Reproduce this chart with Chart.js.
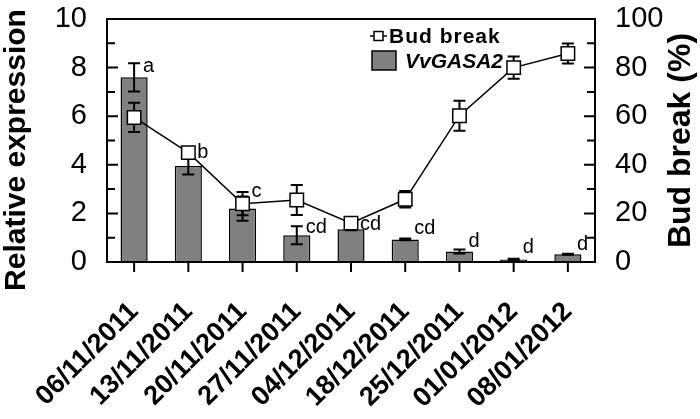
<!DOCTYPE html>
<html><head><meta charset="utf-8">
<script src="https://cdn.jsdelivr.net/npm/chart.js@4.4.1/dist/chart.umd.min.js"></script>
<style>html,body{margin:0;padding:0;background:#fff}#wrap{width:700px;height:419px}</style>
</head><body><div id="wrap"><canvas id="c" width="700" height="419"></canvas></div>
<script>
const dates = ['06/11/2011','13/11/2011','20/11/2011','27/11/2011','04/12/2011','18/12/2011','25/12/2011','01/01/2012','08/01/2012'];
const expression = [7.6, 3.95, 2.2, 1.1, 1.35, 0.93, 0.43, 0.1, 0.32];
const expressionErr = [0.58, 0.35, 0.5, 0.37, 0.04, 0.04, 0.08, 0.03, 0.02];
const budBreak = [59.5, 45, 24, 25.5, 16, 25.8, 60.2, 80, 85.8];
const budBreakErr = [6, 1, 4.8, 6.2, 1, 3.4, 6.2, 4.6, 4.1];
const sigLetters = ['a','b','c','cd','cd','cd','d','d','d'];
const letterLevels = [7.82, 4.28, 2.67, 1.19, 1.32, 1.15, 0.62, 0.37, 0.49];
const leftTickStep = 2;
const rightTickStep = 20;
const leftTitle = 'Relative expression';
const rightTitle = 'Bud break (%)';

const FONT = "'Liberation Sans', Arial, sans-serif";

function vText(ctx, text, cx, cy, font) {
  ctx.save();
  ctx.translate(cx, cy);
  ctx.rotate(-Math.PI / 2);
  ctx.textAlign = 'center';
  ctx.textBaseline = 'middle';
  ctx.font = font;
  ctx.fillText(text, 0, 0);
  ctx.restore();
}

const extras = {
  id: 'extras',
  beforeDatasetDraw(chart, args) {
    if (args.index !== 0) return;
    const ctx = chart.ctx, x = chart.scales.x, y1 = chart.scales.y1;
    ctx.save();
    ctx.strokeStyle = '#000'; ctx.lineWidth = 2;
    budBreak.forEach((v, i) => {
      const px = x.getPixelForValue(i);
      const top = y1.getPixelForValue(v + budBreakErr[i]);
      const bot = y1.getPixelForValue(v - budBreakErr[i]);
      ctx.beginPath();
      ctx.moveTo(px, top); ctx.lineTo(px, bot);
      ctx.moveTo(px - 6, top); ctx.lineTo(px + 6, top);
      ctx.moveTo(px - 6, bot); ctx.lineTo(px + 6, bot);
      ctx.stroke();
    });
    ctx.restore();
  },
  afterDatasetDraw(chart, args) {
    if (args.index !== 1) return;
    const ctx = chart.ctx, x = chart.scales.x, y = chart.scales.y;
    ctx.save();
    ctx.strokeStyle = '#000'; ctx.lineWidth = 2;
    expression.forEach((v, i) => {
      const px = x.getPixelForValue(i);
      const top = y.getPixelForValue(v + expressionErr[i]);
      const bot = y.getPixelForValue(v - expressionErr[i]);
      ctx.beginPath();
      ctx.moveTo(px, top); ctx.lineTo(px, bot);
      ctx.moveTo(px - 6, top); ctx.lineTo(px + 6, top);
      ctx.moveTo(px - 6, bot); ctx.lineTo(px + 6, bot);
      ctx.stroke();
    });
    ctx.restore();
  },
  afterDraw(chart) {
    const ctx = chart.ctx, a = chart.chartArea;
    const x = chart.scales.x, y = chart.scales.y, y1 = chart.scales.y1;
    ctx.save();
    ctx.strokeStyle = '#000';
    ctx.lineWidth = 2;
    ctx.strokeRect(a.left, a.top, a.right - a.left, a.bottom - a.top);
    ctx.beginPath();
    for (let v = y.min; v <= y.max + 1e-9; v += leftTickStep / 2) {
      const py = y.getPixelForValue(v);
      const major = Math.abs(v / leftTickStep - Math.round(v / leftTickStep)) < 1e-6;
      const len = major ? 11 : 8;
      ctx.moveTo(a.left, py); ctx.lineTo(a.left + len, py);
    }
    for (let v = y1.min; v <= y1.max + 1e-9; v += rightTickStep / 2) {
      const py = y1.getPixelForValue(v);
      const major = Math.abs(v / rightTickStep - Math.round(v / rightTickStep)) < 1e-6;
      const len = major ? 11 : 8;
      ctx.moveTo(a.right, py); ctx.lineTo(a.right - len, py);
    }
    dates.forEach((d, i) => {
      const px = x.getPixelForValue(i);
      ctx.moveTo(px, a.bottom); ctx.lineTo(px, a.bottom + 10);
    });
    ctx.stroke();
    ctx.fillStyle = '#000';
    ctx.font = '20px ' + FONT;
    ctx.textAlign = 'left';
    ctx.textBaseline = 'alphabetic';
    sigLetters.forEach((t, i) => {
      const px = x.getPixelForValue(i) + 9;
      ctx.fillText(t, px, y.getPixelForValue(letterLevels[i]));
    });
    vText(ctx, leftTitle, 17, 150, 'bold 30px ' + FONT);
    vText(ctx, rightTitle, y1.right - 19, (a.top + a.bottom) / 2, 'bold 32px ' + FONT);
    const lx = a.left + 263, ly = a.top + 17;
    ctx.lineWidth = 1.5;
    ctx.beginPath(); ctx.moveTo(lx, ly); ctx.lineTo(lx + 17, ly); ctx.stroke();
    ctx.fillStyle = '#fff';
    ctx.fillRect(lx + 4, ly - 4.5, 9, 9);
    ctx.strokeRect(lx + 4, ly - 4.5, 9, 9);
    ctx.fillStyle = '#000';
    ctx.font = 'bold 21px ' + FONT;
    if ('letterSpacing' in ctx) ctx.letterSpacing = '1px';
    ctx.fillText('Bud break', lx + 19, ly + 7);
    if ('letterSpacing' in ctx) ctx.letterSpacing = '0px';
    ctx.fillStyle = '#808080';
    ctx.fillRect(lx + 2, ly + 15, 24, 19);
    ctx.strokeRect(lx + 2, ly + 15, 24, 19);
    ctx.fillStyle = '#000';
    ctx.font = 'italic bold 21px ' + FONT;
    ctx.fillText('VvGASA2', lx + 35, ly + 32);
    ctx.restore();
  }
};

new Chart(document.getElementById('c'), {
  data: {
    labels: dates,
    datasets: [
      {
        type: 'line', label: 'Bud break', data: budBreak, yAxisID: 'y1', order: 0,
        borderColor: '#000', borderWidth: 1.5, pointStyle: 'rect', pointRadius: 9.5,
        pointBackgroundColor: '#fff', pointBorderColor: '#000', pointBorderWidth: 1.5,
        tension: 0, fill: false
      },
      {
        type: 'bar', label: 'VvGASA2', data: expression, yAxisID: 'y', order: 1,
        backgroundColor: '#808080', borderColor: '#000', borderWidth: 1.5,
        barPercentage: 0.5, categoryPercentage: 1
      }
    ]
  },
  options: {
    responsive: false, animation: false,
    layout: { padding: { top: 19, left: 0, right: 0, bottom: 0 } },
    plugins: { legend: { display: false }, tooltip: { enabled: false } },
    scales: {
      x: {
        type: 'category', offset: true,
        grid: { display: false }, border: { display: false },
        ticks: { autoSkip: false, maxRotation: 45, minRotation: 45, padding: 26, color: '#000',
                 font: { family: FONT, size: 27, weight: 'bold' } },
        afterFit(s) { s.height = 157; s.paddingLeft = 0; s.paddingRight = 0; }
      },
      y: {
        position: 'left', min: 0, max: 10,
        grid: { display: false }, border: { display: false },
        ticks: { stepSize: leftTickStep, padding: 12, color: '#000', font: { family: FONT, size: 29 } },
        title: { display: false },
        afterFit(s) { s.width = 107; s.paddingTop = 0; s.paddingBottom = 0; }
      },
      y1: {
        position: 'right', min: 0, max: 100,
        grid: { display: false }, border: { display: false },
        ticks: { stepSize: rightTickStep, padding: 12, color: '#000', font: { family: FONT, size: 29 } },
        title: { display: false },
        afterFit(s) { s.width = 105; s.paddingTop = 0; s.paddingBottom = 0; }
      }
    }
  },
  plugins: [extras]
});
</script></body></html>
